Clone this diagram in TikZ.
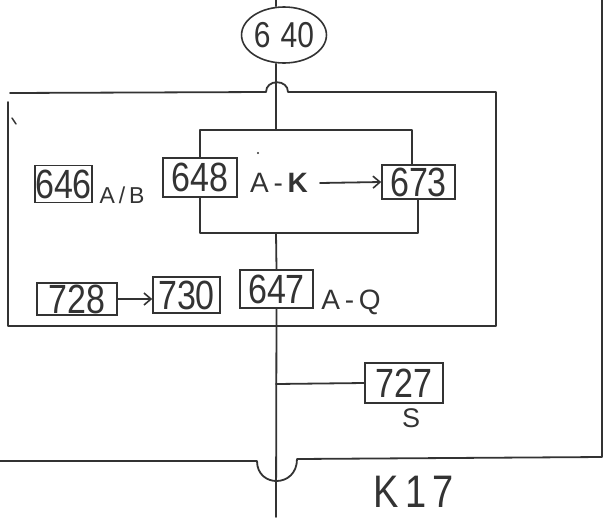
\documentclass[tikz,border=0pt]{standalone}
\usepackage{fontspec}
\usepackage{graphicx}
\setmainfont{Liberation Sans}
\usetikzlibrary{arrows.meta,shapes.geometric}
\definecolor{ink}{HTML}{333333}
\newcommand{\tall}[1]{\scalebox{1}[1.2]{#1}}
\tikzset{
  ln/.style={line width=1.8pt, draw=ink, line cap=round, line join=round},
  numbox/.style={draw=ink, line width=1.6pt, inner sep=0pt, text=ink,
                 font=\fontsize{34}{34}\selectfont},
  lbl/.style={inner sep=0pt, text=ink},
  arr/.style={ln, -{Straight Barb[length=7pt,width=12pt,line width=1.6pt]}}
}
\begin{document}
\begin{tikzpicture}[x=1pt,y=-1pt]
\useasboundingbox (0,0) rectangle (604,517);

% circle 640
\node[ellipse, draw=ink, line width=1.6pt, minimum width=68pt, minimum height=56pt,
      inner sep=0pt, text=ink, font=\fontsize{30}{30}\selectfont] (c640) at (284,35) {\tall{6\,\,40}};

% boxes
\node[numbox, minimum width=57pt, minimum height=37pt] (b646) at (63.5,184) {\tall{646}};
\node[numbox, minimum width=74pt, minimum height=39pt] (b648) at (200,177.5) {\tall{648}};
\node[numbox, minimum width=73pt, minimum height=34pt] (b673) at (418.5,182) {\tall{673}};
\node[numbox, minimum width=80pt, minimum height=32pt] (b728) at (77,299) {\tall{728}};
\node[numbox, minimum width=67pt, minimum height=36pt] (b730) at (186.5,295) {\tall{730}};
\node[numbox, minimum width=73pt, minimum height=38pt] (b647) at (276.5,289) {\tall{647}};
\node[numbox, minimum width=78pt, minimum height=40pt] (b727) at (404,383) {\tall{727}};

% labels
\node[lbl, font=\fontsize{23}{23}\selectfont] (lAB) at (122,195) {A\,/\,B};
\node[lbl, font=\fontsize{28}{28}\selectfont] (lAK) at (279,183) {A\,-\,\textbf{K}};
\node[lbl, font=\fontsize{28}{28}\selectfont, anchor=base] (lAQ) at (351,309) {A\,-\,Q};
\node[lbl, font=\fontsize{27}{27}\selectfont] (lS) at (411,418) {S};
\node[lbl, font=\fontsize{38}{38}\selectfont] (lK17) at (414,492) {\tall{K\,1\,7}};

% coordinates
\coordinate (top) at (276,0);
\coordinate (inTopL) at (200,130);
\coordinate (inTopM) at (276,130);
\coordinate (inTopR) at (412,130);
\coordinate (inBotL) at (200,233);
\coordinate (inBotM) at (276,233);
\coordinate (inBotR) at (418,233);
\coordinate (branch) at (276,384);
\coordinate (bottom) at (276,517);

% outer big box with hop on top line
\draw[ln] (10,93) -- (266,92) .. controls (266,79) and (288,79) .. (288,92)
  -- (496,92) -- (496,326) -- (8,326) -- (8,102);

% outermost frame: bottom line with hop, right edge
\draw[ln] (0,461) -- (257,461) .. controls (257,488) and (297,488) .. (297,459)
  -- (602,457) -- (602,0);

% main vertical line
\draw[ln] (top) -- (top |- c640.north);
\draw[ln] (c640.south -| inTopM) -- (inTopM);
\draw[ln] (inBotM) -- (b647.north);
\draw[ln] (b647.south) -- (bottom);
\draw[ln] (branch) -- (b727.west);

% inner box
\draw[ln] (b648.north -| inTopL) -- (inTopL) -- (inTopR) -- (b673.north -| inTopR);
\draw[ln] (b648.south -| inBotL) -- (inBotL) -- (inBotR) -- (b673.south -| inBotR);

% arrows
\draw[arr] (lAK.east) ++(12,0) coordinate (aks) (aks) -- (b673.west);
\draw[arr] (b728.east) -- (b730.west |- b728.east);

% stray pen marks
\draw[ln, line width=1.4pt] (12,118) -- (16,124);
\fill[ink] (258,153) circle (1.2pt);
\end{tikzpicture}
\end{document}
